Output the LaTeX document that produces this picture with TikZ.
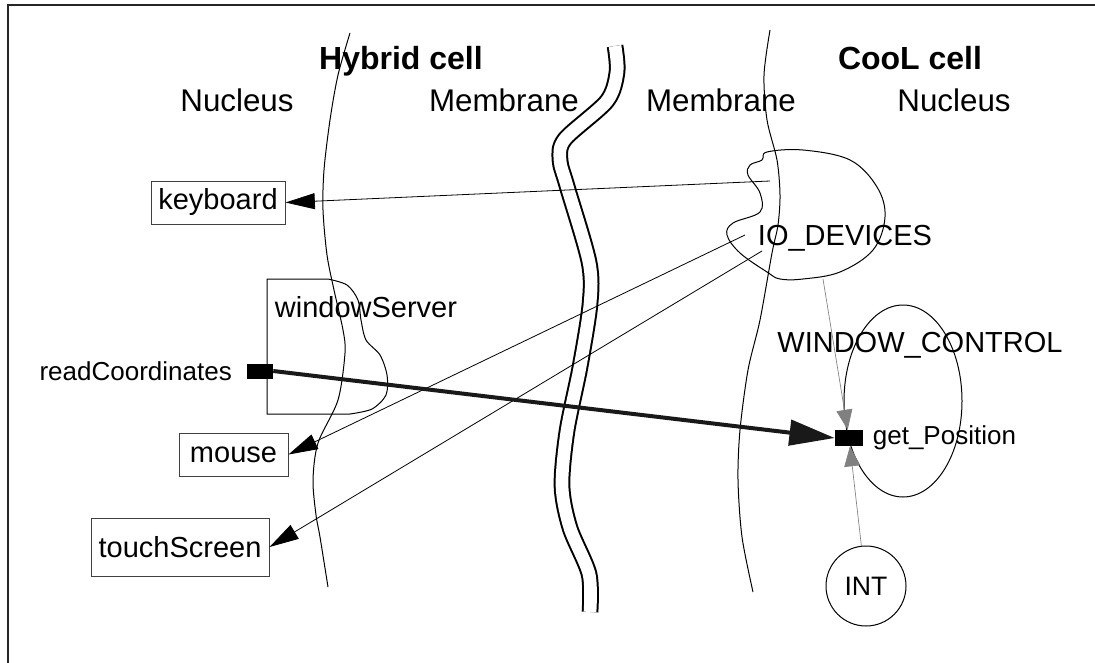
\documentclass[tikz,border=0pt]{standalone}
\usepackage{fontspec}
\setmainfont{Liberation Sans}
\usetikzlibrary{arrows.meta,positioning}

\begin{document}
\begin{tikzpicture}[x=0.75pt,y=-0.75pt,
  txt/.style={inner sep=0pt,font=\fontsize{21.75pt}{26pt}\selectfont},
  regionlbl/.style={inner sep=0pt,anchor=base,font=\fontsize{23.5pt}{28pt}\selectfont},
  cellhead/.style={regionlbl,font=\bfseries\fontsize{24pt}{28pt}\selectfont},
  smalltxt/.style={inner sep=0pt,font=\fontsize{19.5pt}{23pt}\selectfont},
  device/.style={txt,draw=black!75,line width=0.75pt},
  port/.style={fill=black,inner sep=0pt,minimum width=19.5pt,minimum height=11.25pt},
  wall/.style={line width=0.75pt},
  call/.style={line width=0.6pt,-{Triangle[length=22pt,width=12pt]}},
  link/.style={draw=black!50,line width=0.5pt,-{Triangle[length=15pt,width=12pt]}},
  ]
  \useasboundingbox (0,0) rectangle (1095,663);
  \draw[line width=1.5pt,black!85] (1095,5) -- (8,5) -- (8,663);

  \node[cellhead] (hybrid) at (401,70) {Hybrid cell};
  \node[cellhead] (cool) at (910,70) {CooL cell};
  \node[regionlbl] (nucl) at (237,112) {Nucleus};
  \node[regionlbl] (meml) at (504,112) {Membrane};
  \node[regionlbl] (memr) at (721,112) {Membrane};
  \node[regionlbl] (nucr) at (954,112) {Nucleus};

  \draw[wall] plot[smooth] coordinates {(350,33) (338,75) (330,120) (324,170) (323,210)
    (327,255) (334,290) (343,330) (345,353) (338,400) (318,443) (313,480) (316,515) (320,537) (328,587)};
  \draw[wall] plot[smooth] coordinates {(770,30) (764,75) (767,120) (777,160) (780,195)
    (778,225) (772,253) (760,320) (748,370) (740,430) (738,480) (742,537) (753,592)};
  \draw[line width=1.5pt,double,double distance=9.5pt] plot[smooth] coordinates {(615,46) (617,72)
    (607,101) (565,139) (560,160) (567,186) (589,262) (590,304) (580,367) (567,431) (562,486)
    (570,528) (589,574) (590,612)};

  \draw[wall] (267,414) -- (267,279) -- plot[smooth] coordinates {(328,279) (347,285) (358,300)
    (361,320) (366,340) (380,355) (387,375) (386,395) (372,409) (350,414)} -- cycle;
  \node[txt,anchor=base] (ws) at (366,317) {windowServer};

  \draw[wall] plot[smooth cycle,tension=0.6] coordinates {(803,150) (850,160) (877,187) (885,217)
    (873,250) (840,272) (803,279) (780,279) (767,272) (740,253) (727,235) (733,223) (760,212)
    (760,193) (748,175) (750,165) (762,160) (767,152)};
  \node[txt,anchor=base] (io) at (845,245) {IO\_DEVICES};
  \coordinate (kbsrc) at (770,181);
  \coordinate (msrc) at (745,235);
  \coordinate (tssrc) at (762,251);
  \coordinate (iobot) at (823,279);

  \draw[wall] (903,401) ellipse [x radius=59, y radius=96];
  \node[txt,anchor=base] (wc) at (920,352) {WINDOW\_CONTROL};

  \node[device,minimum width=100.5pt,minimum height=32.25pt] (kb) at (218,202.5) {keyboard};
  \node[device,minimum width=81.75pt,minimum height=32.25pt] (mouse) at (233.5,454.5) {mouse};
  \node[device,minimum width=133.5pt,minimum height=43.5pt] (ts) at (180,547) {touchScreen};

  \node[port] (rc) at (260,371) {};
  \node[smalltxt,left=11pt of rc] (rclbl) {readCoordinates};
  \node[port,minimum width=21pt,minimum height=12pt] (gp) at (849,438) {};
  \node[smalltxt,right=7pt of gp] (gplbl) {get\_Position};
  \node[draw,circle,line width=0.75pt,minimum size=60pt,inner sep=0pt,
    font=\fontsize{20pt}{24pt}\selectfont] (int) at (866,586) {INT};

  \draw[call] (kbsrc) -- (kb.east);
  \draw[call] (msrc) -- (mouse.east);
  \draw[call] (tssrc) -- (ts.east);
  \draw[line width=3pt,black!90,-{Triangle[length=34pt,width=19pt]}] (rc.east) -- (gp.west);
  \draw[link] (iobot) -- (gp);
  \draw[link] (int) -- (gp);
\end{tikzpicture}
\end{document}
